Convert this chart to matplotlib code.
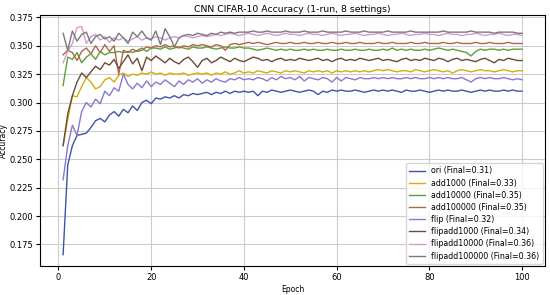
import matplotlib
matplotlib.use("Agg")
import matplotlib.pyplot as plt

# accuracy per epoch (epochs 1..100)
ori = [0.166, 0.245, 0.262, 0.271, 0.272, 0.273, 0.278, 0.284, 0.286, 0.283,
       0.289, 0.292, 0.288, 0.294, 0.291, 0.297, 0.293, 0.300, 0.302, 0.299,
       0.304, 0.303, 0.305, 0.304, 0.306, 0.304, 0.307, 0.306, 0.308, 0.307,
       0.308, 0.309, 0.307, 0.309, 0.308, 0.310, 0.308, 0.310, 0.309, 0.310,
       0.309, 0.310, 0.306, 0.310, 0.309, 0.311, 0.310, 0.309, 0.310, 0.311,
       0.310, 0.309, 0.310, 0.311, 0.310, 0.307, 0.310, 0.309, 0.311, 0.310,
       0.311, 0.310, 0.310, 0.311, 0.310, 0.309, 0.310, 0.311, 0.310, 0.311,
       0.310, 0.311, 0.310, 0.309, 0.311, 0.310, 0.310, 0.311, 0.310, 0.309,
       0.310, 0.311, 0.310, 0.311, 0.310, 0.310, 0.311, 0.310, 0.309, 0.310,
       0.311, 0.310, 0.311, 0.310, 0.310, 0.311, 0.310, 0.311, 0.310, 0.310]

add1000 = [0.262, 0.285, 0.306, 0.305, 0.314, 0.322, 0.318, 0.312, 0.314, 0.320,
           0.322, 0.318, 0.324, 0.326, 0.323, 0.325, 0.324, 0.326, 0.325, 0.327,
           0.325, 0.326, 0.324, 0.326, 0.325, 0.325, 0.326, 0.324, 0.325, 0.326,
           0.325, 0.326, 0.324, 0.326, 0.325, 0.327, 0.325, 0.326, 0.328, 0.326,
           0.327, 0.326, 0.328, 0.327, 0.326, 0.328, 0.327, 0.326, 0.328, 0.327,
           0.328, 0.327, 0.326, 0.328, 0.327, 0.328, 0.327, 0.328, 0.326, 0.328,
           0.327, 0.328, 0.327, 0.328, 0.327, 0.328, 0.327, 0.328, 0.329, 0.328,
           0.329, 0.328, 0.327, 0.328, 0.328, 0.327, 0.329, 0.328, 0.327, 0.328,
           0.329, 0.328, 0.327, 0.328, 0.326, 0.328, 0.329, 0.328, 0.327, 0.328,
           0.329, 0.328, 0.328, 0.327, 0.328, 0.329, 0.328, 0.327, 0.328, 0.328]

add10000 = [0.315, 0.340, 0.338, 0.344, 0.335, 0.340, 0.343, 0.338, 0.345, 0.342,
            0.344, 0.344, 0.345, 0.344, 0.345, 0.344, 0.346, 0.348, 0.345, 0.348,
            0.348, 0.347, 0.349, 0.347, 0.348, 0.349, 0.348, 0.347, 0.349, 0.348,
            0.348, 0.349, 0.348, 0.347, 0.348, 0.349, 0.348, 0.348, 0.349, 0.348,
            0.348, 0.347, 0.346, 0.347, 0.348, 0.347, 0.346, 0.347, 0.346, 0.347,
            0.346, 0.346, 0.347, 0.346, 0.347, 0.346, 0.346, 0.347, 0.346, 0.346,
            0.347, 0.346, 0.346, 0.347, 0.346, 0.346, 0.347, 0.346, 0.346, 0.347,
            0.346, 0.348, 0.346, 0.347, 0.346, 0.347, 0.346, 0.346, 0.347, 0.346,
            0.347, 0.348, 0.347, 0.346, 0.347, 0.346, 0.345, 0.344, 0.341, 0.345,
            0.347, 0.346, 0.347, 0.347, 0.346, 0.347, 0.346, 0.347, 0.347, 0.347]

add100000 = [0.342, 0.346, 0.344, 0.337, 0.345, 0.348, 0.343, 0.350, 0.344, 0.351,
             0.345, 0.350, 0.325, 0.346, 0.344, 0.347, 0.345, 0.346, 0.349, 0.348,
             0.350, 0.349, 0.351, 0.349, 0.350, 0.348, 0.350, 0.349, 0.351, 0.350,
             0.351, 0.350, 0.349, 0.351, 0.350, 0.346, 0.351, 0.352, 0.351, 0.352,
             0.353, 0.352, 0.353, 0.352, 0.351, 0.352, 0.353, 0.352, 0.352, 0.353,
             0.352, 0.352, 0.353, 0.352, 0.352, 0.353, 0.352, 0.352, 0.353, 0.352,
             0.352, 0.353, 0.352, 0.352, 0.353, 0.352, 0.352, 0.352, 0.353, 0.352,
             0.352, 0.353, 0.352, 0.352, 0.352, 0.353, 0.352, 0.352, 0.353, 0.352,
             0.352, 0.352, 0.353, 0.352, 0.352, 0.353, 0.352, 0.352, 0.352, 0.353,
             0.352, 0.352, 0.353, 0.352, 0.352, 0.352, 0.353, 0.352, 0.352, 0.352]

flip = [0.232, 0.262, 0.280, 0.271, 0.292, 0.300, 0.296, 0.303, 0.299, 0.310,
        0.306, 0.313, 0.310, 0.325, 0.316, 0.312, 0.317, 0.313, 0.319, 0.314,
        0.318, 0.316, 0.320, 0.317, 0.314, 0.319, 0.316, 0.320, 0.318, 0.321,
        0.317, 0.320, 0.318, 0.321, 0.319, 0.318, 0.321, 0.320, 0.322, 0.320,
        0.321, 0.320, 0.322, 0.321, 0.319, 0.322, 0.320, 0.323, 0.321, 0.322,
        0.320, 0.323, 0.319, 0.322, 0.321, 0.320, 0.322, 0.321, 0.318, 0.322,
        0.319, 0.322, 0.321, 0.320, 0.322, 0.321, 0.321, 0.322, 0.321, 0.322,
        0.321, 0.322, 0.321, 0.321, 0.322, 0.321, 0.322, 0.321, 0.321, 0.322,
        0.321, 0.322, 0.321, 0.322, 0.321, 0.321, 0.322, 0.320, 0.318, 0.321,
        0.322, 0.321, 0.322, 0.321, 0.321, 0.322, 0.321, 0.320, 0.321, 0.320]

flipadd1000 = [0.262, 0.290, 0.306, 0.318, 0.326, 0.322, 0.327, 0.332, 0.329, 0.335,
               0.333, 0.338, 0.330, 0.336, 0.342, 0.334, 0.339, 0.328, 0.340, 0.337,
               0.341, 0.338, 0.335, 0.339, 0.336, 0.334, 0.338, 0.340, 0.336, 0.331,
               0.337, 0.339, 0.335, 0.337, 0.340, 0.338, 0.336, 0.339, 0.337, 0.336,
               0.338, 0.340, 0.339, 0.337, 0.338, 0.336, 0.338, 0.339, 0.337, 0.338,
               0.337, 0.339, 0.338, 0.337, 0.338, 0.339, 0.337, 0.338, 0.336, 0.338,
               0.339, 0.337, 0.338, 0.337, 0.339, 0.338, 0.337, 0.338, 0.339, 0.337,
               0.338, 0.337, 0.336, 0.338, 0.339, 0.337, 0.338, 0.337, 0.339, 0.338,
               0.337, 0.339, 0.338, 0.336, 0.338, 0.339, 0.337, 0.338, 0.337, 0.336,
               0.338, 0.339, 0.337, 0.335, 0.338, 0.337, 0.339, 0.338, 0.337, 0.337]

flipadd10000 = [0.335, 0.345, 0.352, 0.366, 0.367, 0.352, 0.358, 0.360, 0.355, 0.358,
                0.353, 0.357, 0.355, 0.357, 0.354, 0.356, 0.358, 0.355, 0.357, 0.356,
                0.358, 0.357, 0.355, 0.357, 0.358, 0.357, 0.359, 0.358, 0.357, 0.358,
                0.359, 0.358, 0.359, 0.360, 0.359, 0.360, 0.361, 0.360, 0.359, 0.360,
                0.361, 0.360, 0.359, 0.360, 0.361, 0.360, 0.359, 0.360, 0.361, 0.360,
                0.360, 0.359, 0.360, 0.361, 0.360, 0.360, 0.359, 0.360, 0.361, 0.360,
                0.359, 0.360, 0.360, 0.361, 0.360, 0.359, 0.360, 0.360, 0.361, 0.360,
                0.359, 0.360, 0.360, 0.361, 0.360, 0.359, 0.360, 0.360, 0.361, 0.360,
                0.360, 0.359, 0.360, 0.361, 0.360, 0.360, 0.359, 0.360, 0.360, 0.361,
                0.360, 0.359, 0.360, 0.360, 0.361, 0.360, 0.359, 0.360, 0.360, 0.359]

flipadd100000 = [0.361, 0.346, 0.363, 0.354, 0.360, 0.362, 0.352, 0.358, 0.360, 0.356,
                 0.358, 0.354, 0.361, 0.357, 0.352, 0.362, 0.358, 0.363, 0.357, 0.355,
                 0.363, 0.351, 0.365, 0.358, 0.349, 0.357, 0.359, 0.360, 0.359, 0.361,
                 0.360, 0.359, 0.361, 0.360, 0.362, 0.361, 0.362, 0.361, 0.362, 0.362,
                 0.362, 0.363, 0.362, 0.362, 0.363, 0.362, 0.362, 0.362, 0.363, 0.362,
                 0.362, 0.362, 0.363, 0.362, 0.362, 0.362, 0.363, 0.362, 0.362, 0.362,
                 0.362, 0.363, 0.362, 0.362, 0.362, 0.363, 0.362, 0.362, 0.362, 0.362,
                 0.363, 0.362, 0.362, 0.362, 0.362, 0.363, 0.362, 0.362, 0.362, 0.362,
                 0.362, 0.362, 0.363, 0.362, 0.362, 0.362, 0.362, 0.362, 0.363, 0.362,
                 0.362, 0.362, 0.362, 0.361, 0.362, 0.362, 0.362, 0.362, 0.361, 0.361]

names = ['ori', 'add1000', 'add10000', 'add100000',
         'flip', 'flipadd1000', 'flipadd10000', 'flipadd100000']
series = [ori, add1000, add10000, add100000,
          flip, flipadd1000, flipadd10000, flipadd100000]
colors = ['#3d55a5', '#d4ac0d', '#5f9e3a', '#b0674a',
          '#8a78cc', '#6b4b3a', '#d49ad4', '#7a7a7a']

epochs = list(range(1, 101))

fig = plt.figure(figsize=(5.5, 2.95), dpi=100)
ax = fig.add_axes([0.073, 0.098, 0.918, 0.851])

for name, vals, c in zip(names, series, colors):
    ax.plot(epochs, vals, color=c, linewidth=1.0,
            label=f'{name} (Final={vals[-1]:.2f})')

ax.set_title('CNN CIFAR-10 Accuracy (1-run, 8 settings)', fontsize=6.7, pad=2)
ax.set_xlabel('Epoch', fontsize=5.5, labelpad=2)
ax.set_ylabel('Accuracy', fontsize=5.5, labelpad=1)
ax.tick_params(labelsize=6, length=3, pad=2)
ax.grid(True, color='#cccccc', linewidth=0.8)
ax.legend(loc='lower right', fontsize=5.7, handlelength=2.0,
          labelspacing=0.4, borderpad=0.4, borderaxespad=0.3,
          framealpha=0.8)

plt.savefig('out.png', dpi=100)
